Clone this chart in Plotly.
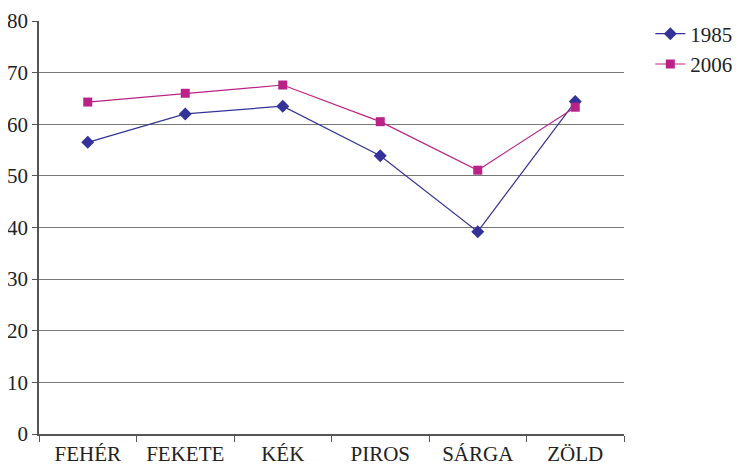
import plotly.graph_objects as go

categories = ["FEHÉR", "FEKETE", "KÉK", "PIROS", "SÁRGA", "ZÖLD"]
values_1985 = [56.5, 62.0, 63.5, 53.9, 39.2, 64.4]
values_2006 = [64.3, 66.0, 67.6, 60.5, 51.1, 63.3]
y_ticks = [0, 10, 20, 30, 40, 50, 60, 70, 80]

font_family = "Liberation Serif"
fsize = 21

fig = go.Figure()
fig.add_trace(go.Scatter(
    x=categories, y=values_1985, name="1985", mode="lines+markers",
    line=dict(color="#333399", width=1.2),
    marker=dict(symbol="diamond", size=10, color="#333399"),
))
fig.add_trace(go.Scatter(
    x=categories, y=values_2006, name="2006", mode="lines+markers",
    line=dict(color="#BB2288", width=1.2),
    marker=dict(symbol="square", size=9, color="#BB2288"),
))

# page body adds an 8px offset; compensate so plot area lands at 39..624 x 21..434
fig.update_layout(
    width=732, height=458,
    margin=dict(l=31, r=116, t=13, b=32, autoexpand=False),
    paper_bgcolor="white", plot_bgcolor="white",
    font=dict(family=font_family, size=fsize, color="#222222"),
    showlegend=True,
    legend=dict(x=1.045, y=1.018, xanchor="left", yanchor="top",
                font=dict(family=font_family, size=fsize, color="#222222"),
                bgcolor="rgba(0,0,0,0)", tracegroupgap=0, itemwidth=30),
    xaxis=dict(
        type="category", tickson="boundaries", range=[-0.5, 5.5],
        showline=True, linecolor="#555555", linewidth=1.5,
        ticks="outside", ticklen=6, tickcolor="#555555",
        showgrid=False, zeroline=False, automargin=False,
        ticklabelstandoff=0,
        tickfont=dict(family=font_family, size=fsize, color="#222222"),
    ),
    yaxis=dict(
        range=[0, 80], tickvals=y_ticks,
        showline=True, linecolor="#555555", linewidth=1.5,
        ticks="outside", ticklen=5, tickcolor="#555555",
        showgrid=True, gridcolor="#777777", gridwidth=1,
        zeroline=False, automargin=False,
        tickfont=dict(family=font_family, size=fsize, color="#222222"),
    ),
)

fig.write_html("out.html")
